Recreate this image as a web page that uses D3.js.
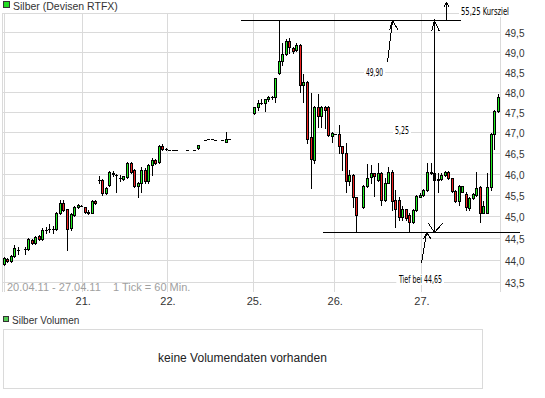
<!DOCTYPE html>
<html>
<head>
<meta charset="utf-8">
<script src="https://cdn.jsdelivr.net/npm/d3@7"></script>
<style>
  body { margin: 0; background: #fff; }
  svg { display: block; font-family: "Liberation Sans", Arial, sans-serif; }
</style>
</head>
<body>
<svg id="chart" width="545" height="398"></svg>
<script>
// hourly slots (0 = 20.04.11 early morning), weekend left out
const slots = [
  0, 1, 2, 3, 4, 6, 7, 8, 9, 10, 11, 12, 13, 14, 15, 16, 17, 18, 19, 20, 21,
  22, 23, 24, 25, 26, 27, 28, 29, 30, 31, 32, 33, 34, 35, 36, 37, 38, 39, 40, 41, 42, 43, 44, 45, 46,
  47, 48, 49, 52, 54, 55, 57, 58, 59, 60, 62, 63, 64,
  71, 72, 73, 74, 75, 76, 77, 78, 79, 80, 81, 82, 83, 84, 85, 86, 87, 88, 89, 90, 91, 92, 93, 94, 95, 96, 97, 98, 99, 100,
  102, 103, 104, 105, 106, 107, 108, 109, 110, 111, 112, 113, 114, 115, 116, 117, 118, 119, 120,
  121, 122, 123, 124, 125, 126, 127, 128, 129, 130, 131, 132, 133, 134, 135, 136, 137, 138, 139, 140
];
const opens = [
  43.90, 44.01, 43.98, 44.08, 44.22, 44.24, 44.24, 44.45, 44.37, 44.55, 44.47, 44.68, 44.70, 44.70, 44.70, 45.07, 45.32, 45.16, 44.72, 45.04, 45.22,
  45.25, 45.21, 45.11, 45.08, 45.35, 45.85, 45.85, 45.55, 45.74, 46.03, 45.97, 45.91, 45.87, 45.93, 46.25, 46.09, 45.70, 45.79, 46.10, 45.82, 46.21, 46.33, 46.29, 46.66, 46.59,
  46.57, 46.57, 46.56, 46.56, 46.56, 46.61, 46.81, 46.83, 46.83, 46.81, 46.81, 46.77, 46.85,
  47.47, 47.62, 47.71, 47.71, 47.81, 47.87, 47.87, 48.47, 48.78, 48.95, 49.27, 49.10, 49.04, 49.17, 48.16, 48.25, 46.88, 46.33, 47.62, 47.41, 47.63, 47.63, 46.92, 46.96, 46.96, 46.66, 46.49, 45.82, 45.97, 45.44,
  45.21, 45.71, 45.93, 46.01, 45.86, 46.02, 45.39, 45.79, 46.05, 45.38, 45.39, 44.99, 45.16, 45.04, 44.87, 45.15, 45.46, 45.50, 45.62,
  46.05, 46.01, 45.86, 45.87, 45.97, 46.05, 45.89, 45.60, 45.35, 45.58, 45.52, 45.19, 45.42, 45.50, 45.68, 45.08, 45.08, 45.68, 46.96, 47.51
];
const highs = [
  44.07, 44.03, 44.10, 44.33, 44.29, 44.30, 44.50, 44.47, 44.55, 44.57, 44.72, 44.75, 44.81, 44.77, 45.09, 45.39, 45.39, 45.18, 45.07, 45.24, 45.28,
  45.27, 45.22, 45.15, 45.38, 45.37, 45.94, 45.87, 45.68, 46.07, 46.07, 46.00, 45.97, 45.96, 46.28, 46.29, 46.12, 45.81, 46.17, 46.13, 46.23, 46.39, 46.35, 46.69, 46.71, 46.61,
  46.57, 46.57, 46.56, 46.56, 46.56, 46.70, 46.81, 46.83, 46.83, 46.81, 46.81, 47.00, 46.85,
  47.63, 47.79, 47.81, 47.83, 47.90, 47.90, 48.35, 49.81, 49.23, 49.32, 49.35, 49.13, 49.23, 49.20, 48.45, 48.27, 47.97, 47.64, 47.94, 47.64, 47.65, 47.65, 47.02, 46.96, 47.18, 46.68, 46.75, 46.09, 45.99, 45.46,
  45.73, 46.23, 46.21, 46.03, 46.25, 46.05, 45.89, 46.17, 46.09, 45.62, 45.46, 45.24, 45.18, 45.08, 45.17, 45.49, 45.54, 45.64, 46.25,
  46.25, 46.03, 46.01, 46.01, 46.07, 46.07, 45.91, 45.62, 45.73, 45.72, 45.58, 45.44, 45.54, 46.05, 45.70, 45.36, 46.01, 46.98, 47.55, 47.94
];
const lows = [
  43.87, 43.95, 43.95, 44.07, 44.14, 44.14, 44.22, 44.35, 44.35, 44.45, 44.45, 44.62, 44.64, 44.60, 44.68, 45.06, 45.12, 44.22, 44.68, 45.01, 45.20,
  45.23, 45.08, 45.06, 45.07, 45.29, 45.78, 45.50, 45.53, 45.71, 45.96, 45.58, 45.82, 45.85, 45.90, 46.03, 45.68, 45.46, 45.58, 45.79, 45.79, 45.97, 46.23, 46.27, 46.57, 46.57,
  46.57, 46.57, 46.56, 46.56, 46.56, 46.60, 46.81, 46.83, 46.83, 46.81, 46.81, 46.76, 46.85,
  47.45, 47.55, 47.70, 47.51, 47.77, 47.81, 47.75, 48.44, 48.67, 48.92, 48.97, 48.97, 49.03, 48.00, 47.75, 46.75, 45.66, 46.25, 47.14, 47.14, 47.11, 46.90, 46.77, 46.96, 46.49, 46.10, 45.58, 45.74, 45.22, 44.63,
  45.19, 45.69, 45.78, 45.47, 45.82, 45.27, 45.35, 45.78, 45.15, 44.76, 44.92, 44.92, 44.91, 44.64, 44.85, 45.13, 45.44, 45.48, 45.60,
  45.99, 45.84, 45.58, 45.86, 45.95, 45.87, 45.58, 45.33, 45.27, 45.56, 45.15, 45.15, 45.40, 45.48, 44.87, 45.07, 45.07, 45.62, 46.59, 47.49
];
const closes = [
  44.03, 43.98, 44.08, 44.26, 44.23, 44.24, 44.47, 44.37, 44.53, 44.47, 44.68, 44.68, 44.70, 44.70, 45.07, 45.31, 45.15, 44.70, 45.05, 45.21, 45.26,
  45.25, 45.10, 45.08, 45.35, 45.31, 45.85, 45.55, 45.66, 46.05, 45.99, 45.97, 45.91, 45.94, 46.25, 46.05, 45.70, 45.79, 46.10, 45.82, 46.21, 46.33, 46.25, 46.66, 46.59, 46.59,
  46.57, 46.57, 46.56, 46.56, 46.56, 46.69, 46.81, 46.83, 46.83, 46.81, 46.81, 46.85, 46.85,
  47.62, 47.71, 47.72, 47.81, 47.87, 47.87, 48.33, 48.76, 48.95, 49.27, 49.12, 49.03, 49.17, 48.16, 48.25, 46.85, 46.35, 47.62, 47.39, 47.62, 47.55, 46.94, 46.98, 46.96, 46.66, 46.49, 45.82, 45.97, 45.44, 45.02,
  45.71, 45.91, 46.01, 45.95, 46.02, 45.39, 45.79, 46.05, 45.35, 45.16, 44.99, 45.16, 44.96, 44.87, 45.15, 45.47, 45.50, 45.62, 46.05,
  46.01, 45.86, 45.87, 45.97, 46.05, 45.89, 45.60, 45.35, 45.71, 45.70, 45.21, 45.42, 45.52, 45.66, 45.08, 45.24, 45.68, 46.96, 47.51, 47.87
];

const dayLabels = ['21.', '22.', '25.', '26.', '27.'];
const dayPos = [22.3, 46.3, 70.8, 93.7, 118.3];
const priceTicks = [43.5, 44.0, 44.5, 45.0, 45.5, 46.0, 46.5, 47.0, 47.5, 48.0, 48.5, 49.0, 49.5];

// chart analysis drawn on top (high / low levels)
const hiLevel = 49.81;
const loLevel = 44.63;

const svg = d3.select('#chart');
const plot = {left: 2, right: 501, top: 13, bottom: 292};

const xscale = d3.scaleLinear().domain([0, 140]).range([3.5, 497.6]);
const yscale = d3.scaleLog().domain([43.5, 49.5]).range([281.7, 32.3]);
const px = v => Math.round(yscale(v));
const cx = s => Math.round(xscale(s));

const de = d3.formatLocale({decimal: ',', thousands: '.', grouping: [3], currency: ['', ' €']});
const fmt = de.format('.1f');

// header
svg.append('rect').attr('x', 3.5).attr('y', 1.5).attr('width', 6).attr('height', 6)
  .attr('fill', '#22dd22').attr('stroke', '#333');
svg.append('text').attr('x', 13).attr('y', 10).attr('font-size', '10.5px').attr('fill', '#333')
  .text('Silber (Devisen RTFX)');

// grid
const grid = svg.append('g').attr('shape-rendering', 'crispEdges').attr('stroke', '#dadada');
grid.append('line').attr('x1', plot.left).attr('x2', plot.right).attr('y1', plot.top + 0.5).attr('y2', plot.top + 0.5);
grid.selectAll('line.h').data(priceTicks).join('line').attr('class', 'h')
  .attr('x1', plot.left).attr('x2', plot.right)
  .attr('y1', d => px(d) + 0.5).attr('y2', d => px(d) + 0.5);
grid.selectAll('line.v').data(dayPos).join('line').attr('class', 'v')
  .attr('x1', d => cx(d) + 0.5).attr('x2', d => cx(d) + 0.5)
  .attr('y1', plot.top).attr('y2', plot.bottom);
[2.5, 4.5, plot.right - 0.5].forEach(x => {
  grid.append('line').attr('x1', x).attr('x2', x).attr('y1', plot.top).attr('y2', plot.bottom);
});

// axes
const yaxis = d3.axisRight(yscale).tickValues(priceTicks).tickFormat(fmt).tickSize(0).tickPadding(5);
const yg = svg.append('g').attr('transform', `translate(${plot.right - 1}, 0)`).call(yaxis);
yg.select('.domain').remove();
yg.selectAll('text').attr('font-family', '"Liberation Sans", Arial, sans-serif')
  .attr('font-size', '10px').attr('fill', '#333').attr('dy', '0.45em');

const xaxis = d3.axisBottom(xscale).tickValues(dayPos).tickFormat((d, i) => dayLabels[i]).tickSize(0).tickPadding(5);
const xg = svg.append('g').attr('transform', `translate(0.5, ${plot.bottom})`).call(xaxis);
xg.select('.domain').remove();
xg.selectAll('text').attr('font-family', '"Liberation Sans", Arial, sans-serif')
  .attr('font-size', '11px').attr('fill', '#333');

svg.append('text').attr('x', 7).attr('y', 291).attr('font-size', '11px').attr('fill', '#a0a0a0')
  .text('20.04.11 - 27.04.11');
svg.append('text').attr('x', 113).attr('y', 291).attr('font-size', '11px').attr('fill', '#a0a0a0')
  .text('1 Tick = 60 Min.');

// candles
const candles = slots.map((s, i) => ({slot: s, o: opens[i], h: highs[i], l: lows[i], c: closes[i]}));
const cg = svg.append('g').attr('shape-rendering', 'crispEdges');
candles.forEach(d => {
  const x = cx(d.slot);
  const yh = px(d.h), yl = px(d.l);
  const top = px(Math.max(d.o, d.c)), bot = px(Math.min(d.o, d.c));
  cg.append('rect').attr('x', x).attr('y', yh).attr('width', 1).attr('height', yl - yh + 1).attr('fill', '#000');
  cg.append('rect').attr('x', x - 1).attr('y', top).attr('width', 3).attr('height', bot - top + 1).attr('fill', '#000');
  if (bot - top > 1) {
    cg.append('rect').attr('x', x).attr('y', top + 1).attr('width', 1).attr('height', bot - top - 1)
      .attr('fill', d.c >= d.o ? '#22ee22' : '#ee2222');
  }
});

// annotations: [slot, price] end points
const annLines = [
  [[67.0, hiLevel], [129.4, hiLevel]],
  [[90.2, loLevel], [146.1, loLevel]],
  [[122.0, hiLevel], [122.0, loLevel]],
  [[125.4, hiLevel], [125.4, 50.29]],
  [[108.6, 48.75], [110.2, hiLevel]],
  [[118.3, 43.92], [119.7, loLevel]]
];
const heads = [
  {at: [122.0, hiLevel], dx: [-3, 5], dy: 11},
  {at: [122.0, loLevel], dx: [-6, 8], dy: -9},
  {at: [125.4, 50.29], dx: [-3, 3], dy: 5},
  {at: [110.2, hiLevel], dx: [-3, 6], dy: 10},
  {at: [119.7, loLevel], dx: [-3, 5], dy: 7}
];
const ag = svg.append('g').attr('shape-rendering', 'crispEdges').attr('stroke', '#000').attr('fill', 'none');
annLines.forEach(([a, b]) => {
  ag.append('line')
    .attr('x1', cx(a[0]) + 0.5).attr('y1', px(a[1]) + 0.5)
    .attr('x2', cx(b[0]) + 0.5).attr('y2', px(b[1]) + 0.5);
});
heads.forEach(h => {
  const x = cx(h.at[0]) + 0.5, y = px(h.at[1]) + 0.5;
  ag.append('path').attr('d', `M${x + h.dx[0]},${y + h.dy}L${x},${y}L${x + h.dx[1]},${y + h.dy}`);
});

const notes = [
  {text: '55,25 Kursziel', x: cx(125.4) + 15, y: px(50.29) + 13, anchor: 'start', len: 48},
  {text: '49,90', x: cx(108.6) - 21, y: px(48.75) + 14, anchor: 'start', len: 17},
  {text: '5,25', x: cx(122.0) - 25, y: Math.round((px(hiLevel) + px(loLevel)) / 2) + 8, anchor: 'end', len: 14},
  {text: 'Tief bei 44,65', x: cx(118.3) - 22, y: px(43.92) + 20, anchor: 'start', len: 43}
];
const ng = svg.append('g');
notes.forEach(n => {
  const t = ng.append('text').attr('x', n.x).attr('y', n.y).attr('text-anchor', n.anchor)
    .attr('font-family', '"Liberation Sans Narrow", "DejaVu Sans Condensed", sans-serif')
    .attr('font-size', '10px').attr('fill', '#000')
    .attr('textLength', n.len).attr('lengthAdjust', 'spacingAndGlyphs')
    .text(n.text);
  const b = t.node().getBBox();
  ng.insert('rect', () => t.node()).attr('x', b.x - 2).attr('y', b.y).attr('width', b.width + 4)
    .attr('height', b.height).attr('fill', '#fff');
});

// volume panel
svg.append('rect').attr('x', 3.5).attr('y', 316.5).attr('width', 5).attr('height', 5)
  .attr('fill', '#55cc55').attr('stroke', '#333');
svg.append('text').attr('x', 12).attr('y', 324).attr('font-size', '10px').attr('fill', '#333')
  .text('Silber Volumen');
svg.append('rect').attr('x', 3.5).attr('y', 329.5).attr('width', 479).attr('height', 59)
  .attr('fill', 'none').attr('stroke', '#dadada').attr('shape-rendering', 'crispEdges');
svg.append('text').attr('x', 242.5).attr('y', 362).attr('text-anchor', 'middle')
  .attr('font-size', '12px').attr('fill', '#222')
  .text('keine Volumendaten vorhanden');
</script>
</body>
</html>
